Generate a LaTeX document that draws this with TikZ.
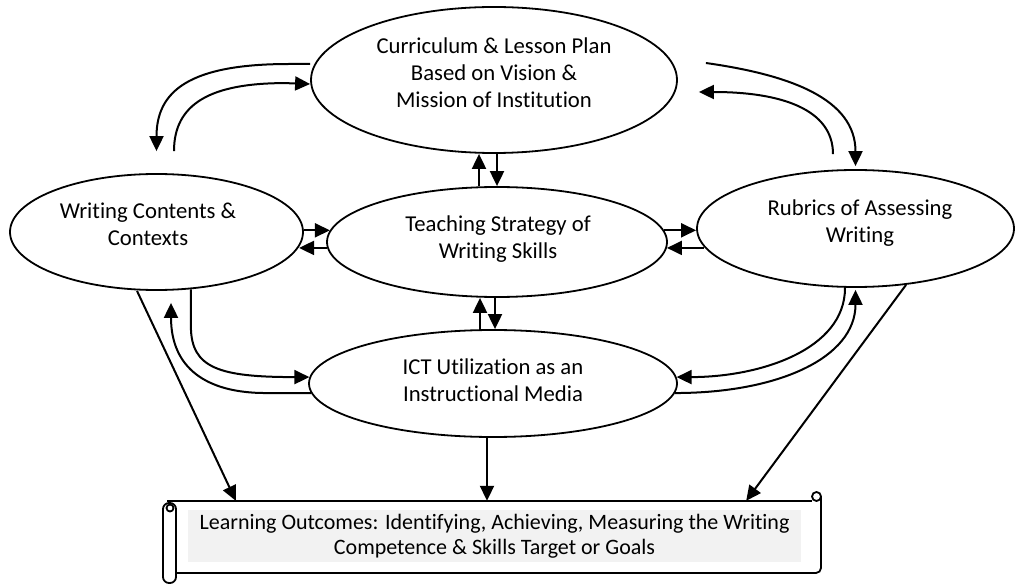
\documentclass[tikz,border=0pt]{standalone}
\usepackage{fontspec}
\setmainfont{Carlito}[Ligatures=NoCommon]
\usetikzlibrary{arrows.meta,shapes.geometric,calc}
\definecolor{scrollgray}{HTML}{F2F2F2}
\begin{document}
\begin{tikzpicture}[x=1pt,y=-1pt,
  ell/.style={draw,line width=1.8pt,ellipse,inner sep=0pt},
  lbl/.style={align=center,font=\fontsize{22.7}{27}\selectfont,inner sep=0pt,text=black},
  glbl/.style={align=center,font=\fontsize{22}{25}\selectfont,inner sep=0pt,text=black},
  con/.style={line width=2pt,-{Triangle[length=15pt,width=14pt]}},
  scr/.style={line width=1.8pt}]
\useasboundingbox (0,0) rectangle (1017,585);

% ellipses
\node[ell,minimum width=366pt,minimum height=146pt] (cur) at (494,80) {};
\node[ell,minimum width=293pt,minimum height=116pt] (wri) at (156.5,232) {};
\node[ell,minimum width=340pt,minimum height=110pt] (tea) at (497,242) {};
\node[ell,minimum width=317pt,minimum height=117pt] (rub) at (855.5,228.5) {};
\node[ell,minimum width=368pt,minimum height=107pt] (ict) at (493,383.5) {};

\node[lbl] (curtxt) at (494,73) {Curriculum \& Lesson Plan\\Based on Vision \&\\Mission of Institution};
\node[lbl] (writxt) at (148,224) {Writing Contents \&\\Contexts};
\node[lbl] (teatxt) at (498,239) {Teaching Strategy of\\Writing Skills};
\node[lbl] (rubtxt) at (860,223) {Rubrics of Assessing\\Writing};
\node[lbl] (icttxt) at (493,380) {ICT Utilization as an\\Instructional Media};

% scroll
\node[inner sep=0pt,minimum width=645pt,minimum height=72pt] (goal) at (498.5,537) {};
\fill[scrollgray] (188,510) rectangle (801,562);
\draw[scr,rounded corners=5pt] (176,573) -- (821,573) -- (821,497);
\draw[scr] (167,501) -- (812,501);
\draw[scr] (816.5,496.5) circle (4.5pt);
\draw[scr,rounded corners=6pt] (163,503) rectangle (176,583);
\draw[scr] (170,508) circle (3.5pt);
\node[glbl] (goaltxt) at (494.5,536.5) {Learning Outcomes: Identifying, Achieving, Measuring the Writing\\Competence \& Skills Target or Goals};

% curved pairs top-left
\draw[con] ([yshift=16pt]cur.west) -- ++(-21,0) .. controls +(-100,0) and +(0,-60) .. ([yshift=22pt]wri.north);
\draw[con] ([xshift=17.5pt,yshift=22pt]wri.north) .. controls +(0,-47) and +(-75,0) .. ++(111,-68) -- ([yshift=-4pt]cur.west);
% top-right
\draw[con] ([xshift=28pt,yshift=17pt]cur.east) .. controls +(85,12) and +(0,-67) .. ([yshift=3pt]rub.north);
\draw[con] ([xshift=-22.5pt,yshift=15pt]rub.north) .. controls +(0,-45) and +(82,0) .. ([xshift=21pt,yshift=-12pt]cur.east);
% vertical top pair
\draw[con] ([xshift=-18pt]tea.north) -- ([xshift=-15pt]cur.south);
\draw[con] ([xshift=3pt]cur.south) -- (tea.north);
% horizontal left pair
\draw[con] (wri.east |- tea.176) -- (tea.176);
\draw[con] (tea.182) -- (tea.182 -| wri.-6);
% horizontal right pair
\draw[con] (tea.4) -- (tea.4 -| rub.west);
\draw[con] (rub.187 |- tea.-2) -- (tea.-2);
% vertical bottom pair
\draw[con] ([xshift=-13pt]ict.north) -- ([xshift=-17pt]tea.south);
\draw[con] ([xshift=-2pt]tea.south) -- ([xshift=2pt]ict.north);
% bottom-left pair
\draw[con] (wri.-59) -- ++(0,37) .. controls +(0,42) and +(-90,0) .. (ict.178);
\draw[con] (ict.183) -- ++(-45,0) .. controls +(-60,0) and +(0,65) .. ([xshift=14.5pt,yshift=-12pt]wri.south);
% bottom-right pair
\draw[con] ([xshift=-10.5pt]rub.south) .. controls +(0,62) and +(83,0) .. (ict.2);
\draw[con] (ict.-3) .. controls +(103,0) and +(0,68) .. ([yshift=-2pt]rub.south);
% to outcomes
\draw[con] ([xshift=-19.5pt]wri.south) -- ([xshift=60pt]goal.north west);
\draw[con] ([xshift=-6pt]ict.south) -- ([xshift=-11.5pt]goal.north);
\draw[con] ([xshift=50.5pt,yshift=3pt]rub.south) -- ([xshift=-75pt]goal.north east);
\end{tikzpicture}
\end{document}
